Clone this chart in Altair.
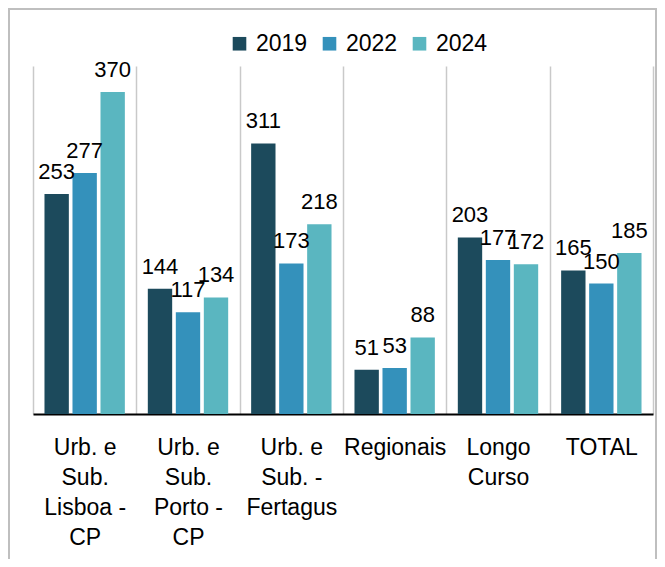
import json
import altair as alt
import pandas as pd

categories = ["Urb. e Sub. Lisboa - CP", "Urb. e Sub. Porto - CP", "Urb. e Sub. - Fertagus",
              "Regionais", "Longo Curso", "TOTAL"]
category_lines = [["Urb. e", "Sub.", "Lisboa -", "CP"],
                  ["Urb. e", "Sub.", "Porto -", "CP"],
                  ["Urb. e", "Sub. -", "Fertagus"],
                  ["Regionais"],
                  ["Longo", "Curso"],
                  ["TOTAL"]]
years = ["2019", "2022", "2024"]
values_2019 = [253, 144, 311, 51, 203, 165]
values_2022 = [277, 117, 173, 53, 177, 150]
values_2024 = [370, 134, 218, 88, 172, 185]
colors = ["#1c4a5c", "#3491bb", "#5ab6c0"]

FONT = "Liberation Sans"

rows = []
for yr, vals in zip(years, [values_2019, values_2022, values_2024]):
    for c, v in zip(categories, vals):
        rows.append({"category": c, "year": yr, "value": v})
df = pd.DataFrame(rows)

label_map = json.dumps({c: l for c, l in zip(categories, category_lines)})
label_expr = f"{label_map}[datum.label]"

W, H = 620, 348
PAD = {"left": 25, "top": 58, "right": 4, "bottom": 145}

base = alt.Chart(df).encode(
    x=alt.X("category:N", sort=categories,
            scale=alt.Scale(paddingInner=0, paddingOuter=0),
            axis=alt.Axis(title=None, labelExpr=label_expr, labelFontSize=23,
                          labelFont=FONT, labelColor="#000", labelLineHeight=30,
                          labelPadding=22, labelAngle=0, ticks=False,
                          domainColor="#000", domainWidth=2,
                          grid=True, gridColor="#c9c9c9", gridWidth=1.5,
                          tickBand="extent")),
    xOffset=alt.XOffset("year:N", sort=years,
                        scale=alt.Scale(paddingInner=0.13, paddingOuter=0.41)),
    y=alt.Y("value:Q", scale=alt.Scale(domain=[0, 400]), axis=None),
)

bars = base.mark_bar().encode(
    color=alt.Color("year:N", scale=alt.Scale(domain=years, range=colors),
                    legend=alt.Legend(title=None, orient="none", legendX=195, legendY=-34,
                                      direction="horizontal", symbolType="square",
                                      symbolSize=185, symbolStrokeWidth=0,
                                      labelFontSize=23, labelFont=FONT, labelColor="#000",
                                      columnPadding=10, labelOffset=5))
)

labels = base.mark_text(dy=-15, baseline="alphabetic", fontSize=22, font=FONT,
                        color="#000").encode(text="value:Q")

frame_df = pd.DataFrame({"k": [0]})
left_border = alt.Chart(frame_df).mark_rule(color="#bfbfbf", strokeWidth=2).encode(
    x=alt.value(-24), y=alt.value(-58), y2=alt.value(H + PAD["bottom"]))
right_border = alt.Chart(frame_df).mark_rule(color="#bfbfbf", strokeWidth=2).encode(
    x=alt.value(W + 3), y=alt.value(-58), y2=alt.value(H + PAD["bottom"]))
top_border = alt.Chart(frame_df).mark_rule(color="#bfbfbf", strokeWidth=2).encode(
    x=alt.value(-25), x2=alt.value(W + 4), y=alt.value(-57))

chart = alt.layer(bars, labels, left_border, right_border, top_border).properties(
    width=W, height=H, padding=PAD,
    autosize=alt.AutoSizeParams(type="none"),
).configure_view(stroke=None)

chart.save("out.html", embed_options={"renderer": "svg", "actions": False})
